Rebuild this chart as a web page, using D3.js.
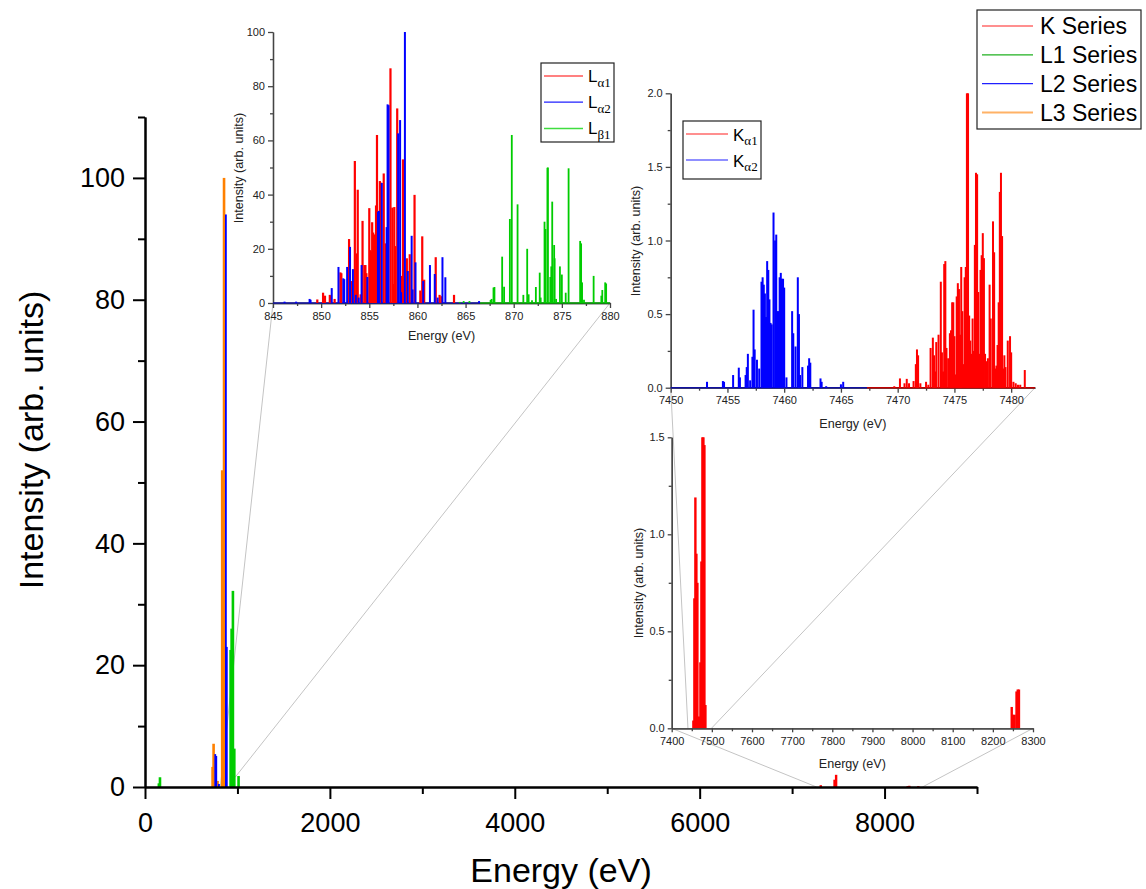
<!DOCTYPE html>
<html>
<head>
<meta charset="utf-8">
<script src="https://cdn.jsdelivr.net/npm/d3@7"></script>
<style>
  body { margin: 0; background: #fff; }
</style>
</head>
<body>
<script>
// ---- main spectrum, [energy eV, intensity] ----
var kSeries  = [[7310,0.3],[7459,1.2],[7476,2.0],[8250,0.15],[8268,0.2],[8365,0.15]];
var l1Series = [[150,0.6],[162,1.6],[926,22.5],[937,26],[951,32.2],[966,6.3],[1012,1.8]];
var l2Series = [[760,5.4],[771,5.1],[800,0.5],[875,94],[885,23]];
var l3Series = [[731,3.3],[742,7.1],[785,1.0],[835,52],[855,100]];

// ---- inset 1 : L lines (845-880 eV) ----
var la1 = [[849.6,1.3],[850.2,3.8],[850.4,2.7],[850.9,3.0],[851.0,2.5],[851.4,1.5],[852.0,11.3],[852.1,11.0],
  [852.9,23.6],[853.2,8.1],[853.5,52.4],[853.7,18.3],[853.8,41.8],[854.1,3.2],[854.3,30.3],[854.5,14],[854.6,14],
  [854.7,11],[855.0,35],[855.1,19.5],[855.2,19],[855.3,29.8],[855.4,26],[855.5,25.3],[855.7,36],[855.8,62],
  [856.1,45],[856.2,44.4],[856.5,47.8],[856.7,22],[857.2,86.6],[857.4,35.2],[857.5,7],[857.6,35.4],[857.7,21],
  [857.9,71.8],[858.4,10],[858.5,53],[858.9,16.5],[859.2,18],[859.7,39.9],[860.3,4.6],[860.5,24.6],[860.7,8.6],
  [861.9,16.9],[862.3,3],[862.5,2.5],[863.8,3]];
var la2 = [[846.2,0.5],[847.4,0.5],[848.8,1.5],[848.9,1.2],[851.1,5.5],[851.8,13.3],[852.3,9.1],[852.4,8.8],
  [852.7,13.3],[853.0,20.7],[853.3,12.5],[853.6,3],[853.9,2],[854.2,14],[854.8,9.6],[855.9,33.7],[856.0,34],
  [856.3,44.3],[856.8,28],[856.9,73.3],[857.0,73],[858.0,62.6],[858.2,67.5],[858.3,4],[858.7,100],[859.0,11.8],
  [859.4,24.8],[859.5,5],[859.8,15],[860.6,8.1],[861.3,14],[861.8,10.7],[862.1,2],[862.6,16.9],[862.9,9.5],
  [866.4,0.7]];
var lb1 = [[864.4,0.4],[864.8,0.7],[865.4,0.7],[867.6,1.1],[867.7,1.5],[867.9,5.7],[868.0,5.9],[868.8,17.1],
  [869.0,6],[869.6,31],[869.8,62],[870.4,36.4],[871.0,3],[871.4,20],[871.55,3.2],[871.9,1],[872.3,5.9],
  [872.7,11.2],[872.8,2],[873.2,30],[873.3,27.3],[873.5,49.9],[873.55,50],[873.8,9.6],[873.9,13.5],[874.0,37.4],
  [874.2,21.4],[874.25,16.5],[874.4,1.5],[874.8,13.5],[875.0,10.5],[875.4,3.8],[875.7,49.7],[876.9,22.9],
  [877.0,22],[877.1,7.6],[877.3,1.2],[878.3,10],[879.1,2.7],[879.2,4.8],[879.5,7.6],[879.6,7.2]];
var la2Grid = [845, 866.5];
var lb1Grid = [866.5, 880];

// ---- inset 2 : K alpha lines (7450-7482 eV) ----
var ka2 = [[7453.2,0.04],[7454.6,0.045],[7454.7,0.04],[7455.5,0.086],[7456.0,0.136],[7456.1,0.07],[7456.6,0.086],
  [7456.7,0.14],[7456.8,0.23],[7457.0,0.05],[7457.2,0.21],[7457.3,0.53],[7457.4,0.26],[7457.6,0.19],[7457.8,0.13],
  [7458.0,0.72],[7458.1,0.75],[7458.2,0.70],[7458.3,0.64],[7458.4,0.48],[7458.5,0.86],[7458.6,0.80],[7458.7,0.60],
  [7458.8,0.44],[7458.9,0.43],[7459.06,1.19],[7459.2,1.0],[7459.3,1.04],[7459.4,0.52],[7459.5,0.52],[7459.6,0.75],
  [7459.7,0.78],[7459.8,0.74],[7459.9,0.74],[7460.0,0.68],[7460.2,0.07],[7460.7,0.52],[7460.8,0.37],[7461.0,0.28],
  [7461.2,0.75],[7461.3,0.5],[7461.4,0.086],[7461.6,0.14],[7462.1,0.15],[7462.2,0.2],[7462.3,0.17],[7463.2,0.063],
  [7463.3,0.04],[7463.7,0.01],[7465.0,0.023],[7465.2,0.04]];
var ka1 = [[7469.7,0.01],[7470.2,0.063],[7470.6,0.03],[7470.8,0.06],[7471.0,0.03],[7471.4,0.045],[7471.6,0.16],
  [7471.7,0.26],[7471.8,0.22],[7472.0,0.03],[7472.5,0.04],[7472.7,0.02],[7472.9,0.27],[7473.1,0.34],[7473.2,0.22],
  [7473.3,0.11],[7473.4,0.31],[7473.6,0.36],[7473.8,0.72],[7473.9,0.24],[7474.0,0.11],[7474.1,0.84],[7474.2,0.86],
  [7474.3,0.27],[7474.45,0.2],[7474.6,0.37],[7474.7,0.39],[7474.8,0.58],[7474.9,0.58],[7475.0,0.35],[7475.1,0.09],
  [7475.2,0.62],[7475.3,0.71],[7475.4,0.67],[7475.5,0.36],[7475.55,0.2],[7475.6,0.82],[7475.7,0.52],[7475.8,0.16],
  [7475.9,0.75],[7476.0,0.82],[7476.1,2.0],[7476.2,2.0],[7476.3,0.49],[7476.4,0.32],[7476.5,0.23],[7476.6,0.47],
  [7476.7,0.25],[7476.8,0.97],[7476.9,1.46],[7477.0,1.45],[7477.1,0.65],[7477.2,0.23],[7477.3,0.8],[7477.4,0.9],
  [7477.5,1.05],[7477.6,0.88],[7477.7,0.23],[7477.8,0.18],[7477.95,0.2],[7478.1,0.7],[7478.2,0.47],[7478.4,1.13],
  [7478.5,0.92],[7478.6,0.13],[7478.7,0.15],[7478.8,0.29],[7478.9,0.58],[7479.0,1.33],[7479.1,1.46],[7479.2,1.03],
  [7479.3,0.13],[7479.4,0.22],[7479.5,0.14],[7479.7,0.32],[7479.9,0.35],[7480.0,0.24],[7480.2,0.04],[7480.4,0.03],
  [7480.6,0.02],[7480.8,0.02],[7481.2,0.12]];
var ka2Grid = [7450, 7467.3];
var ka1Grid = [7467.3, 7482.1];

// ---- inset 3 : K series overview (7400-8300 eV) ----
var kWide = [[7454,0.04],[7456.5,0.67],[7459,1.19],[7461.5,0.9],[7464,0.75],[7466.5,0.06],[7469,0.06],
  [7471.5,0.34],[7474,0.86],[7476.5,1.5],[7479,1.5],[7481.5,1.46],[7484,0.12],
  [8247,0.11],[8250,0.07],[8254,0.07],[8259,0.19],[8262,0.2],[8265,0.2]];

var font = "'Liberation Sans', Arial, sans-serif";
var serif = "'Liberation Serif', 'Times New Roman', serif";

var svg = d3.select("body").append("svg")
    .attr("width", 1146)
    .attr("height", 889);

var gLinks = svg.append("g");

// build one set of axes; returns scales and a group for the data
function panel(c) {
    var x = d3.scaleLinear().domain(c.xDomain).range(c.xRange);
    var y = d3.scaleLinear().domain(c.yDomain).range(c.yRange);
    var g = svg.append("g");
    var gData, gAxis;
    if (c.dataOnTop) { gAxis = g.append("g"); gData = g.append("g"); }
    else { gData = g.append("g"); gAxis = g.append("g"); }

    gAxis.append("g").attr("transform", "translate(0," + c.yRange[0] + ")")
        .call(d3.axisBottom(x).tickValues(c.xMinor).tickSize(c.minor).tickSizeOuter(0).tickFormat(""));
    gAxis.append("g").attr("transform", "translate(" + c.xRange[0] + ",0)")
        .call(d3.axisLeft(y).tickValues(c.yMinor).tickSize(c.minor).tickSizeOuter(0).tickFormat(""));
    gAxis.append("g").attr("transform", "translate(0," + c.yRange[0] + ")")
        .call(d3.axisBottom(x).tickValues(c.xTicks).tickSize(c.major).tickSizeOuter(0)
            .tickPadding(c.padX).tickFormat(c.fmtX));
    gAxis.append("g").attr("transform", "translate(" + c.xRange[0] + ",0)")
        .call(d3.axisLeft(y).tickValues(c.yTicks).tickSize(c.major).tickSizeOuter(0)
            .tickPadding(c.padY).tickFormat(c.fmtY));

    gAxis.selectAll(".domain").attr("stroke", c.axisColor).attr("stroke-width", c.axisWidth);
    gAxis.selectAll(".tick line").attr("stroke", c.axisColor).attr("stroke-width", c.axisWidth);
    gAxis.selectAll(".tick text").attr("fill", c.textColor)
        .style("font-family", font).style("font-size", c.tickFont + "px");

    // axis titles
    gAxis.append("text")
        .attr("x", (c.xRange[0] + c.xRange[1]) / 2)
        .attr("y", c.xTitleY)
        .attr("text-anchor", "middle")
        .attr("fill", c.textColor)
        .style("font-family", font).style("font-size", c.titleFont + "px")
        .text("Energy (eV)");
    gAxis.append("text")
        .attr("transform", "translate(" + c.yTitleX + "," + c.yTitleMid + ") rotate(-90)")
        .attr("text-anchor", "middle")
        .attr("fill", c.textColor)
        .style("font-family", font).style("font-size", c.titleFont + "px")
        .text("Intensity (arb. units)");

    return {x: x, y: y, g: gData};
}

function sticks(p, data, color, w) {
    p.g.append("g").selectAll("rect")
        .data(data)
        .enter()
        .append("rect")
        .attr("x", function(d){ return p.x(d[0]) - w / 2 })
        .attr("y", function(d){ return p.y(d[1]) })
        .attr("width", w)
        .attr("height", function(d){ return Math.max(0, p.y(0) - p.y(d[1])) })
        .attr("fill", color);
}

function baseline(p, grid, color) {
    p.g.append("line")
        .attr("x1", p.x(grid[0])).attr("x2", p.x(grid[1]))
        .attr("y1", p.y(0)).attr("y2", p.y(0))
        .attr("stroke", color).attr("stroke-width", 1.6);
}

var RED = "#ff0000", BLUE = "#0000ff", GREEN = "#00cc00", ORANGE = "#ff8000";

// ---------------- main chart ----------------
var main = panel({
    xDomain: [0, 9000], xRange: [145, 977],
    yDomain: [0, 110], yRange: [787, 117],
    xTicks: [0, 2000, 4000, 6000, 8000], xMinor: [1000, 3000, 5000, 7000, 9000],
    yTicks: [0, 20, 40, 60, 80, 100], yMinor: [10, 30, 50, 70, 90, 110],
    fmtX: d3.format("d"), fmtY: d3.format("d"),
    major: 12, minor: 7, padX: 14, padY: 8,
    axisColor: "#000", axisWidth: 2, textColor: "#000",
    tickFont: 27, titleFont: 34,
    xTitleY: 882, yTitleX: 43, yTitleMid: 440,
    dataOnTop: false
});
sticks(main, l1Series, GREEN, 2.6);
sticks(main, l3Series, ORANGE, 2.6);
sticks(main, l2Series, BLUE, 1.8);
sticks(main, kSeries, RED, 2.4);

// ---------------- inset 1 ----------------
var ins1 = panel({
    xDomain: [845, 880], xRange: [273, 610],
    yDomain: [0, 100], yRange: [303, 32],
    xTicks: d3.range(845, 881, 5), xMinor: d3.range(847.5, 880, 5),
    yTicks: d3.range(0, 101, 20), yMinor: d3.range(10, 100, 20),
    fmtX: d3.format("d"), fmtY: d3.format("d"),
    major: 5, minor: 3, padX: 4, padY: 3,
    axisColor: "#444", axisWidth: 1.3, textColor: "#222",
    tickFont: 11, titleFont: 12.6,
    xTitleY: 340, yTitleX: 243, yTitleMid: 168,
    dataOnTop: true
});
baseline(ins1, la2Grid, "#1010a0");
baseline(ins1, lb1Grid, "#00a000");
sticks(ins1, la1, RED, 2.2);
sticks(ins1, la2, BLUE, 2.0);
sticks(ins1, lb1, GREEN, 1.8);

// ---------------- inset 2 ----------------
var ins2 = panel({
    xDomain: [7450, 7482.1], xRange: [670.7, 1035],
    yDomain: [0, 2], yRange: [387.7, 93.3],
    xTicks: d3.range(7450, 7481, 5), xMinor: d3.range(7452.5, 7482, 5),
    yTicks: [0, 0.5, 1, 1.5, 2], yMinor: [0.25, 0.75, 1.25, 1.75],
    fmtX: d3.format("d"), fmtY: d3.format(".1f"),
    major: 5, minor: 3, padX: 4, padY: 3,
    axisColor: "#444", axisWidth: 1.3, textColor: "#222",
    tickFont: 11, titleFont: 12.6,
    xTitleY: 428, yTitleX: 640, yTitleMid: 241,
    dataOnTop: true
});
baseline(ins2, ka2Grid, "#1010a0");
baseline(ins2, ka1Grid, "#c00000");
sticks(ins2, ka2, BLUE, 2.0);
sticks(ins2, ka1, RED, 2.0);

// ---------------- inset 3 ----------------
var ins3 = panel({
    xDomain: [7400, 8300], xRange: [671.7, 1033],
    yDomain: [0, 1.5], yRange: [728.3, 437.3],
    xTicks: d3.range(7400, 8301, 100), xMinor: d3.range(7450, 8300, 100),
    yTicks: [0, 0.5, 1, 1.5], yMinor: [0.25, 0.75, 1.25],
    fmtX: d3.format("d"), fmtY: d3.format(".1f"),
    major: 4, minor: 3, padX: 5, padY: 3,
    axisColor: "#444", axisWidth: 1.3, textColor: "#222",
    tickFont: 11, titleFont: 12.6,
    xTitleY: 768, yTitleX: 643, yTitleMid: 583,
    dataOnTop: false
});
sticks(ins3, kWide, RED, 2.4);

// ---------------- zoom connector lines ----------------
function link(pa, a, pb, b) {
    gLinks.append("line")
        .attr("x1", pa.x(a[0])).attr("y1", pa.y(a[1]))
        .attr("x2", pb.x(b[0])).attr("y2", pb.y(b[1]))
        .attr("stroke", "#c4c4c4").attr("stroke-width", 1);
}
link(ins1, [845, 0], main, [815, 0]);
link(ins1, [880, 0], main, [975, 1.6]);
link(ins2, [7450, 0], ins3, [7440.5, 0]);
link(ins2, [7482.1, 0], ins3, [7499, 0]);
link(ins3, [7400, 0], main, [7265, 0]);
link(ins3, [8300, 0], main, [8410, 0]);

// ---------------- legends ----------------
function legend(box, rows, opt) {
    var g = svg.append("g");
    g.append("rect")
        .attr("x", box[0]).attr("y", box[1])
        .attr("width", box[2]).attr("height", box[3])
        .attr("fill", "#fff").attr("stroke", "#222").attr("stroke-width", 1.2);
    rows.forEach(function(r, i) {
        var yy = opt.y0 + i * opt.dy;
        g.append("line")
            .attr("x1", opt.lx0).attr("x2", opt.lx1)
            .attr("y1", yy).attr("y2", yy)
            .attr("stroke", r.color).attr("stroke-width", r.w);
        var t = g.append("text")
            .attr("x", opt.tx).attr("y", yy + opt.base)
            .attr("fill", "#000")
            .style("font-family", font).style("font-size", opt.size + "px")
            .text(r.label);
        if (r.sub) {
            t.append("tspan")
                .attr("dy", opt.subDy)
                .style("font-family", serif).style("font-size", opt.subSize + "px")
                .text(r.sub);
        }
    });
}

legend([977, 10, 164, 119], [
    {label: "K Series", color: "#ff2020", w: 1.2},
    {label: "L1 Series", color: "#20b020", w: 1.2},
    {label: "L2 Series", color: "#2020ff", w: 1.2},
    {label: "L3 Series", color: "#ffb266", w: 2}
], {y0: 26, dy: 28.8, lx0: 982, lx1: 1033, tx: 1040, base: 8.3, size: 23});

legend([541, 63, 73, 79], [
    {label: "L", sub: "\u03b11", color: "#ff8080", w: 2.2},
    {label: "L", sub: "\u03b12", color: "#2020ff", w: 1.2},
    {label: "L", sub: "\u03b21", color: "#40dd40", w: 1.5}
], {y0: 76, dy: 26.2, lx0: 544, lx1: 583, tx: 588, base: 6, size: 17, subDy: 4.5, subSize: 13});

legend([683, 121, 78, 58], [
    {label: "K", sub: "\u03b11", color: "#ff2020", w: 1.2},
    {label: "K", sub: "\u03b12", color: "#2020ff", w: 1.2}
], {y0: 134, dy: 26, lx0: 686, lx1: 728, tx: 733, base: 6.5, size: 17, subDy: 4.5, subSize: 13});
</script>
</body>
</html>
